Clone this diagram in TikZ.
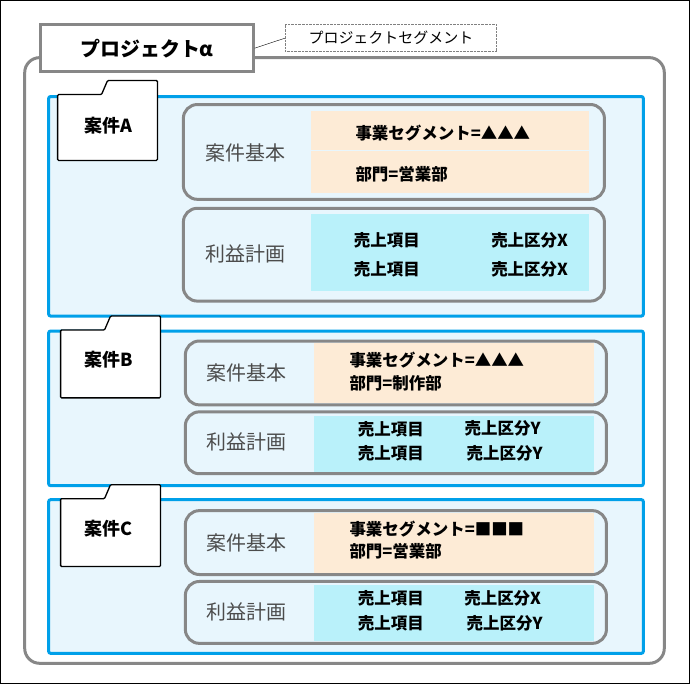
\documentclass[tikz,border=0pt]{standalone}
\usepackage{fontspec}
\setmainfont{Noto Sans CJK JP}
\usetikzlibrary{positioning}
\definecolor{caseblue}{HTML}{00A0E9}
\definecolor{casefill}{HTML}{E8F6FD}
\definecolor{basefill}{HTML}{FDEBD6}
\definecolor{planfill}{HTML}{B9F1FA}
\definecolor{frame}{HTML}{878787}
\begin{document}
\begin{tikzpicture}
 [x=1pt,y=-1pt,
        project/.style={rectangle,draw=frame,line width=3pt,rounded corners=15pt},
        title/.style={rectangle,draw=frame,line width=3pt,fill=white,minimum width=213pt,minimum height=47pt,font=\fontsize{20}{22}\bfseries\selectfont},
        callout/.style={rectangle,draw=gray,densely dotted,thin,minimum width=212pt,minimum height=27pt,font=\fontsize{15}{17}\selectfont},
        case/.style={rectangle,draw=caseblue,line width=3pt,fill=casefill,rounded corners=2pt},
        folder/.style={draw=black,line width=1.3pt,fill=white,rounded corners=1pt},
        inner/.style={rectangle,draw=frame,line width=3pt,fill=casefill,rounded corners=14pt},
        base/.style={rectangle,fill=basefill,inner sep=0pt},
        plan/.style={rectangle,fill=planfill,inner sep=0pt},
        label/.style={font=\fontsize{20}{22}\selectfont,text=black!70},
        item/.style={font=\fontsize{16.5}{18}\bfseries\selectfont},
        folderlbl/.style={font=\fontsize{18}{20}\bfseries\selectfont}]

\draw[line width=1.5pt] (0,0) rectangle (690,684);
\useasboundingbox (0,0) rectangle (690,684);

% Project %
\draw[project] (24,57) rectangle (665,664);
\node[title] (proj) at (146.5,47.5) {プロジェクト\textit{α}};
\node[callout] (seg) at (391,37.5) {プロジェクトセグメント};
\draw[thin] (proj.east) -- (seg.west);

% Case A %
\draw[case] (48,96) rectangle (644,316);
\draw[folder] (57,94) -- (101,94) -- (107,80) -- (157,80) -- (157,160) -- (57,160) -- cycle;
\node[folderlbl] (fa) at (108,125) {案件A};
\draw[inner] (183,104) rectangle (605,199);
\node[base,minimum width=279pt,minimum height=39pt] (ba1) at (450.5,130) {};
\node[base,minimum width=279pt,minimum height=42pt] (ba2) at (450.5,172) {};
\node[label] (la1) at (245,152) {案件基本};
\node[item,anchor=west] at (352,133) {事業セグメント=▲▲▲};
\node[item,anchor=west] at (352,174) {部門=営業部};
\draw[inner] (183,208) rectangle (605,301);
\node[plan,minimum width=279pt,minimum height=77pt] (pa) at (450.5,252.5) {};
\node[label] (la2) at (245,254) {利益計画};
\node[item] at (387,240) {売上項目};
\node[item] at (387,269) {売上項目};
\node[item] at (530,240) {売上区分X};
\node[item] at (530,269) {売上区分X};

% Case B %
\draw[case] (48,331) rectangle (644,486);
\draw[folder] (60,330) -- (104,330) -- (110,316) -- (160,316) -- (160,398) -- (60,398) -- cycle;
\node[folderlbl] (fb) at (108,360) {案件B};
\draw[inner] (185,341) rectangle (607,405);
\node[base,minimum width=281pt,minimum height=60pt] (bb) at (454.5,373) {};
\node[label] (lb1) at (246,373) {案件基本};
\node[item,anchor=west] at (346,360) {事業セグメント=▲▲▲};
\node[item,anchor=west] at (346,383) {部門=制作部};
\draw[inner] (185,412) rectangle (607,474);
\node[plan,minimum width=281pt,minimum height=56pt] (pb) at (454.5,444) {};
\node[label] (lb2) at (246,442) {利益計画};
\node[item] at (391,429) {売上項目};
\node[item] at (391,454) {売上項目};
\node[item] at (503,429) {売上区分Y};
\node[item] at (505,454) {売上区分Y};

% Case C %
\draw[case] (48,500) rectangle (644,654);
\draw[folder] (60,499) -- (104,499) -- (110,485) -- (160,485) -- (160,567) -- (60,567) -- cycle;
\node[folderlbl] (fc) at (108,529) {案件C};
\draw[inner] (185,511) rectangle (607,575);
\node[base,minimum width=281pt,minimum height=60pt] (bc) at (454.5,543) {};
\node[label] (lc1) at (246,543) {案件基本};
\node[item,anchor=west] at (346,529) {事業セグメント=■■■};
\node[item,anchor=west] at (346,552) {部門=営業部};
\draw[inner] (185,582) rectangle (607,644);
\node[plan,minimum width=281pt,minimum height=56pt] (pc) at (454.5,614) {};
\node[label] (lc2) at (246,612) {利益計画};
\node[item] at (391,599) {売上項目};
\node[item] at (391,624) {売上項目};
\node[item] at (503,599) {売上区分X};
\node[item] at (505,624) {売上区分Y};
\end{tikzpicture}
\end{document}
